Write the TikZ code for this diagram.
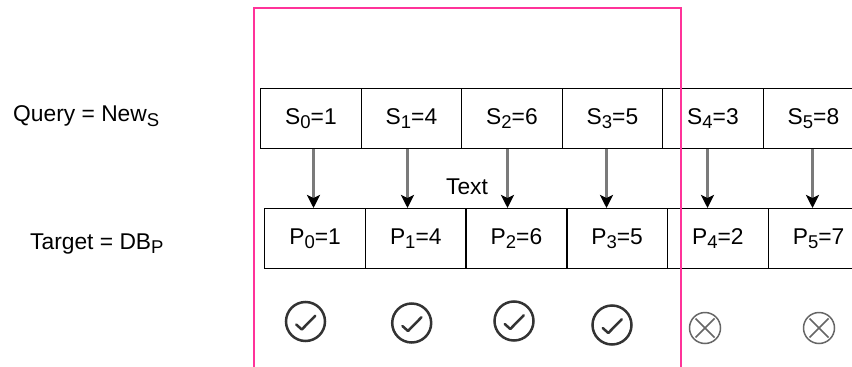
\documentclass[tikz,border=0pt]{standalone}
\usepackage{fontspec}
\setmainfont{Liberation Sans}
\usetikzlibrary{arrows.meta}
\definecolor{pinkline}{HTML}{FF3399}
\definecolor{arrowgray}{HTML}{7A7A7A}
\definecolor{markdark}{HTML}{333333}
\definecolor{markgray}{HTML}{666666}
\tikzset{
  cell/.style={draw=black, line width=1.4pt, minimum height=60pt, inner sep=0pt, font=\fontsize{22.8}{25}\selectfont, anchor=north west},
  lbl/.style={font=\fontsize{22.8}{25}\selectfont, inner sep=0pt},
  arr/.style={draw=arrowgray, line width=3pt, -{Stealth[length=13pt,width=13pt,inset=3pt,fill=black,color=black]}},
  okmark/.style={draw=markdark, line width=2.5pt},
  nomark/.style={draw=markgray, line width=1.5pt},
  frame/.style={draw=pinkline, line width=1.5pt}
}
\newcommand{\sbs}[1]{\raisebox{-4.5pt}{\fontsize{18.5}{20}\selectfont #1}}
\begin{document}
\begin{tikzpicture}[x=1pt,y=-1pt]
\clip (0,0) rectangle (852,367);
\fill[white] (0,0) rectangle (852,367);
% labels
\node[lbl, anchor=west] (q) at (13,116) {Query = New\sbs{S}};
\node[lbl, anchor=west] (t) at (30,244) {Target = DB\sbs{P}};
% top row
\node[cell, minimum width=100.5pt] (s0) at (260,88) {S\sbs{0}=1};
\node[cell, minimum width=100.5pt] (s1) at (360.5,88) {S\sbs{1}=4};
\node[cell, minimum width=100.5pt] (s2) at (461,88) {S\sbs{2}=6};
\node[cell, minimum width=100.5pt] (s3) at (561.5,88) {S\sbs{3}=5};
\node[cell, minimum width=100.5pt] (s4) at (662,88) {S\sbs{4}=3};
\node[cell, minimum width=100.5pt] (s5) at (762.5,88) {S\sbs{5}=8};
% bottom row
\node[cell, minimum width=100.7pt] (p0) at (264,208) {P\sbs{0}=1};
\node[cell, minimum width=100.7pt] (p1) at (364.7,208) {P\sbs{1}=4};
\node[cell, minimum width=100.7pt] (p2) at (465.4,208) {P\sbs{2}=6};
\node[cell, minimum width=100.7pt] (p3) at (566.1,208) {P\sbs{3}=5};
\node[cell, minimum width=100.7pt] (p4) at (666.8,208) {P\sbs{4}=2};
\node[cell, minimum width=100.7pt] (p5) at (767.5,208) {P\sbs{5}=7};
% arrows
\coordinate (a0) at (313.5,0);
\coordinate (a1) at (407.5,0);
\coordinate (a2) at (507.5,0);
\coordinate (a3) at (606.5,0);
\coordinate (a4) at (707.5,0);
\coordinate (a5) at (812.5,0);
\draw[arr] (s0.south -| a0) -- (p0.north -| a0);
\draw[arr] (s1.south -| a1) -- (p1.north -| a1);
\draw[arr] (s2.south -| a2) -- (p2.north -| a2);
\draw[arr] (s3.south -| a3) -- (p3.north -| a3);
\draw[arr] (s4.south -| a4) -- (p4.north -| a4);
\draw[arr] (s5.south -| a5) -- (p5.north -| a5);
\node[lbl] (txt) at (467,187) {Text};
% check marks
\foreach \n/\x/\y in {c0/305.5/321.5, c1/411.7/323, c2/514/321, c3/612/325}{
  \begin{scope}[shift={(\x,\y)}]
    \draw[okmark] (0,0) circle (19.5);
    \draw[okmark, line cap=round, line join=round] (-9.3,3) -- (-3.7,8) -- (9.7,-5.7);
  \end{scope}
}
\foreach \n/\x/\y in {x0/705/328, x1/819/328}{
  \begin{scope}[shift={(\x,\y)}]
    \draw[nomark] (0,0) circle (15.5);
    \draw[nomark] (-9.5,-9.5) -- (9.5,9.5);
    \draw[nomark] (-9.5,9.5) -- (9.5,-9.5);
  \end{scope}
}
% pink frame
\draw[frame] (254,380) -- (254,8) -- (681,8) -- (681,380);
\end{tikzpicture}
\end{document}
